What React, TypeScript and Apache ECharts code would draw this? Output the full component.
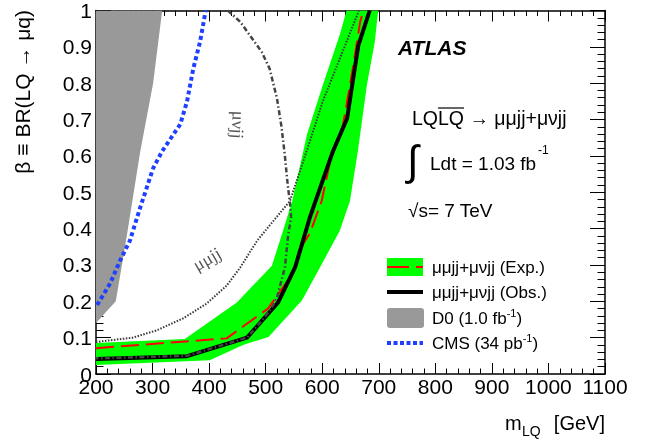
import React, { useEffect, useRef } from "react";
import * as echarts from "echarts";

const FONT = "'Liberation Sans', Arial, sans-serif";
const SERIF = "'Liberation Serif', 'Times New Roman', serif";

// Axis ranges
const X_RANGE = [200, 1100];
const Y_RANGE = [0, 1];

// ±1σ expected band (upper-left edge then lower-right edge), [m_LQ, beta]
const bandUpper: number[][] = [
  [200, 0.085], [357, 0.096], [449, 0.197], [511, 0.298], [529, 0.386],
  [547, 0.476], [573, 0.659], [601, 0.795], [631, 0.933], [643, 1.0],
];
const bandLower: number[][] = [
  [699, 1.0], [693, 0.914], [679, 0.795], [663, 0.613], [649, 0.476],
  [631, 0.394], [596, 0.293], [564, 0.202], [505, 0.102], [460, 0.08],
  [401, 0.038], [200, 0.025],
];
// D0 excluded region
const d0Region: number[][] = [
  [200, 1.0], [200, 0.14], [235, 0.2], [255, 0.385], [278, 0.61], [301, 0.8], [317, 1.0],
];
// Expected limit
const expected: number[][] = [
  [200, 0.071], [431, 0.098], [463, 0.134], [504, 0.18], [548, 0.276], [566, 0.358],
  [578, 0.386], [599, 0.476], [614, 0.585], [631, 0.659], [637, 0.687], [654, 0.84],
  [667, 0.968], [670, 0.985],
];
// Observed limit
const observed: number[][] = [
  [200, 0.041], [361, 0.049], [467, 0.1], [522, 0.197], [552, 0.293], [578, 0.43],
  [619, 0.613], [644, 0.703], [653, 0.795], [664, 0.905], [684, 1.0],
];
// mumujj channel
const mumujj: number[][] = [
  [200, 0.088], [265, 0.1], [307, 0.12], [354, 0.153], [396, 0.194], [431, 0.243],
  [455, 0.293], [485, 0.367], [513, 0.42], [543, 0.476], [575, 0.625], [601, 0.75], [665, 1.0],
];
// munujj channel
const munujj: number[][] = [
  [433, 1.0], [455, 0.969], [493, 0.886], [507, 0.84], [520, 0.758], [528, 0.68],
  [534, 0.6], [539, 0.52], [543, 0.47], [545, 0.43], [540, 0.385], [534, 0.293],
  [520, 0.21], [511, 0.183], [495, 0.15], [467, 0.1], [361, 0.05], [200, 0.043],
];
// CMS limit
const cms: number[][] = [
  [202, 0.19], [225, 0.249], [242, 0.31], [260, 0.367], [278, 0.457], [301, 0.566],
  [317, 0.613], [349, 0.687], [361, 0.75], [372, 0.84], [384, 0.914], [394, 1.0],
];

const polySeries = (pts: number[][], color: string) => ({
  type: "custom",
  xAxisIndex: 0,
  yAxisIndex: 0,
  data: pts,
  encode: { x: 0, y: 1 },
  silent: true,
  clip: true,
  renderItem: (params: any, api: any) => {
    if (params.dataIndex !== 0) return null;
    const points = pts.map((p) => api.coord(p));
    return { type: "polygon", shape: { points }, style: { fill: color, stroke: "none" } };
  },
});

const lineSeries = (data: number[][], color: string, width: number, dash: any) => ({
  type: "line",
  xAxisIndex: 0,
  yAxisIndex: 0,
  data,
  showSymbol: false,
  symbol: "none",
  silent: true,
  lineStyle: { color, width, type: dash, cap: "butt", join: "round" },
});

export default function App() {
  const ref = useRef<HTMLDivElement>(null);
  useEffect(() => {
    document.body.style.margin = "0";
    const chart = echarts.init(ref.current!, null, { renderer: "svg" });
    const axisLine = { show: true, onZero: false, lineStyle: { color: "#000", width: 1.5 } };
    const xBase = {
      type: "value",
      min: X_RANGE[0],
      max: X_RANGE[1],
      interval: 100,
      axisLine,
      splitLine: { show: false },
      axisTick: { show: true, inside: true, length: 11, lineStyle: { color: "#000", width: 1 } },
      minorTick: { show: true, splitNumber: 5, length: 5.5, lineStyle: { color: "#000", width: 1 } },
    };
    const yBase = {
      type: "value",
      min: Y_RANGE[0],
      max: Y_RANGE[1],
      interval: 0.1,
      axisLine,
      splitLine: { show: false },
      axisTick: { show: true, inside: true, length: 15, lineStyle: { color: "#000", width: 1 } },
      minorTick: { show: true, splitNumber: 5, length: 7.5, lineStyle: { color: "#000", width: 1 } },
    };
    const allBand = [...bandUpper, ...bandLower];
    const option: any = {
      animation: false,
      grid: { left: 96, right: 54, top: 8.5, bottom: 70 },
      xAxis: [
        {
          ...xBase,
          position: "bottom",
          axisLabel: {
            show: true, fontSize: 21, color: "#000", fontFamily: FONT, margin: 2,
            formatter: (v: number) => String(v),
          },
        },
        { ...xBase, position: "top", axisLabel: { show: false } },
      ],
      yAxis: [
        {
          ...yBase,
          position: "left",
          axisLabel: {
            show: true, fontSize: 21, color: "#000", fontFamily: FONT, margin: 4,
            formatter: (v: number) => String(Math.round(v * 10) / 10),
          },
        },
        { ...yBase, position: "right", axisLabel: { show: false } },
      ],
      series: [
        polySeries(allBand, "#00ff00"),
        polySeries(d0Region, "#999999"),
        lineSeries(cms, "#1f40ff", 4, [4, 3]),
        lineSeries(mumujj, "#3a3a3a", 2, [1.5, 1.5]),
        lineSeries(expected, "#ff0000", 2, [18, 7]),
        lineSeries(observed, "#000000", 4, "solid"),
        lineSeries(munujj, "#444444", 2.5, [5, 2.5, 1.5, 2.5]),
      ],
      graphic: [
        {
          type: "text", x: 22, y: 10, rotation: Math.PI / 2,
          style: { text: "β ≡ BR(LQ → μq)", fontSize: 21, fontFamily: FONT, fill: "#000", align: "right", verticalAlign: "middle" },
        },
        { type: "text", x: 505, y: 423, style: { text: "m", fontSize: 20, fontFamily: FONT, fill: "#000", verticalAlign: "middle" } },
        { type: "text", x: 522, y: 431, style: { text: "LQ", fontSize: 14, fontFamily: FONT, fill: "#000", verticalAlign: "middle" } },
        { type: "text", x: 605, y: 423, style: { text: "[GeV]", fontSize: 20, fontFamily: FONT, fill: "#000", align: "right", verticalAlign: "middle" } },
        {
          type: "text", x: 398, y: 47,
          style: { text: "ATLAS", fontSize: 21, fontWeight: "bold", fontStyle: "italic", fontFamily: FONT, fill: "#000", verticalAlign: "middle" },
        },
        { type: "text", x: 412, y: 118, style: { text: "LQLQ → μμjj+μνjj", fontSize: 19.5, fontFamily: FONT, fill: "#000", verticalAlign: "middle" } },
        { type: "line", shape: { x1: 438, y1: 108, x2: 464, y2: 108 }, style: { stroke: "#000", lineWidth: 1.2 } },
        { type: "text", x: 407, y: 160, style: { text: "∫", fontSize: 42, fontFamily: FONT, fill: "#000", verticalAlign: "middle" } },
        { type: "text", x: 430, y: 163, style: { text: "Ldt = 1.03 fb", fontSize: 19, fontFamily: FONT, fill: "#000", verticalAlign: "middle" } },
        { type: "text", x: 538, y: 150, style: { text: "-1", fontSize: 12, fontFamily: FONT, fill: "#000", verticalAlign: "middle" } },
        { type: "text", x: 408, y: 210, style: { text: "√s= 7 TeV", fontSize: 19, fontFamily: FONT, fill: "#000", verticalAlign: "middle" } },
        {
          type: "text", x: 238, y: 125, rotation: -1.62,
          style: { text: "μνjj", fontSize: 18, fontFamily: SERIF, fill: "#555", align: "center", verticalAlign: "middle" },
        },
        {
          type: "text", x: 207, y: 259, rotation: 0.52,
          style: { text: "μμjj", fontSize: 18, fontFamily: SERIF, fill: "#555", align: "center", verticalAlign: "middle" },
        },
        // legend
        { type: "rect", shape: { x: 387, y: 258, width: 36, height: 18 }, style: { fill: "#00ff00" } },
        { type: "line", shape: { x1: 387, y1: 267, x2: 423, y2: 267 }, style: { stroke: "#ff0000", lineWidth: 2, lineDash: [22, 7] } },
        { type: "text", x: 432, y: 267, style: { text: "μμjj+μνjj (Exp.)", fontSize: 17, fontFamily: FONT, fill: "#000", verticalAlign: "middle" } },
        { type: "line", shape: { x1: 387, y1: 292, x2: 423, y2: 292 }, style: { stroke: "#000", lineWidth: 4 } },
        { type: "text", x: 432, y: 292, style: { text: "μμjj+μνjj (Obs.)", fontSize: 17, fontFamily: FONT, fill: "#000", verticalAlign: "middle" } },
        { type: "rect", shape: { x: 387, y: 308, width: 37, height: 20, r: 3 }, style: { fill: "#999999" } },
        {
          type: "text", x: 432, y: 318,
          style: {
            text: "D0 (1.0 fb{s|-1})", fontSize: 17, fontFamily: FONT, fill: "#000", verticalAlign: "middle",
            rich: { s: { fontSize: 11, fontFamily: FONT, verticalAlign: "top", lineHeight: 22 } },
          },
        },
        { type: "line", shape: { x1: 387, y1: 343, x2: 423, y2: 343 }, style: { stroke: "#1f40ff", lineWidth: 4, lineDash: [4, 2.5] } },
        {
          type: "text", x: 432, y: 343,
          style: {
            text: "CMS (34 pb{s|-1})", fontSize: 17, fontFamily: FONT, fill: "#000", verticalAlign: "middle",
            rich: { s: { fontSize: 11, fontFamily: FONT, verticalAlign: "top", lineHeight: 22 } },
          },
        },
      ],
    };
    chart.setOption(option);
    return () => chart.dispose();
  }, []);
  return <div ref={ref} style={{ position: "fixed", left: 0, top: 0, width: 659, height: 444 }} />;
}
